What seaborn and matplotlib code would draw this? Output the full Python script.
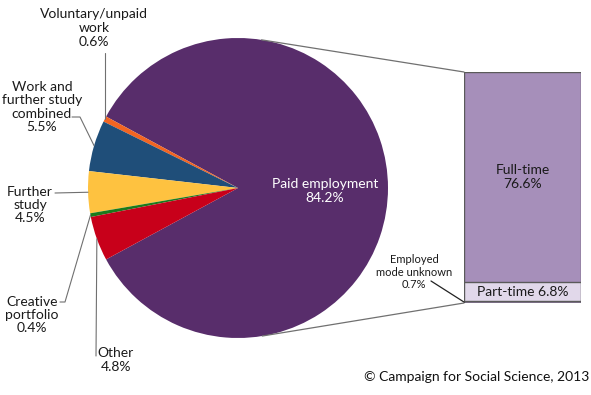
import numpy as np
import matplotlib
matplotlib.use("Agg")
import matplotlib.pyplot as plt
import seaborn as sns
from matplotlib.patches import ConnectionPatch

# pie data (counter-clockwise from the exploded "Paid employment" slice)
pie_labels = ["Paid employment", "Voluntary/unpaid\nwork", "Work and\nfurther study\ncombined",
              "Further\nstudy", "Creative\nportfolio", "Other"]
pie_values = [84.2, 0.6, 5.5, 4.5, 0.4, 4.8]
pie_colors = ["#582d6b", "#f26522", "#1f4e79", "#fec240", "#1b7a1b", "#c8001a"]

# breakdown of paid employment, bottom to top
bar_labels = ["Employed\nmode unknown", "Part-time", "Full-time"]
bar_values = [0.7, 6.8, 76.6]
bar_colors = ["#8e7a9f", "#e1d8ea", "#a68fba"]

W, H = 591, 395
sns.set_theme(style="white")
plt.rcParams['font.family'] = ['Lato', 'DejaVu Sans']

fig = plt.figure(figsize=(W / 100, H / 100), dpi=100)
ax = fig.add_axes([0, 0, 1, 1])

# main pie, axes data units = pixels (y up)
center = (238, H - 188)
radius = 150
start = -pie_values[0] / 100 * 360 / 2
wedges, _ = ax.pie(pie_values, colors=pie_colors, startangle=start, center=center,
                   radius=radius, wedgeprops=dict(linewidth=0))
ax.set_aspect('auto')
ax.set_xlim(0, W)
ax.set_ylim(0, H)
ax.set_axis_off()


def edge_point(w):
    ang = np.deg2rad((w.theta1 + w.theta2) / 2)
    return center[0] + radius * np.cos(ang), center[1] + radius * np.sin(ang)


def py(y):
    return H - y


txt = dict(fontsize=10, color="#1a1a1a", ha="center", va="center", linespacing=1.15)
line_kw = dict(color="#707070", lw=0.8)

ax.text(325, py(191), f"{pie_labels[0]}\n{pie_values[0]}%", color="white",
        fontsize=10, ha="center", va="center", linespacing=1.15)

# label position and leader elbows for the small slices
label_pos = {1: (94, 28), 2: (42, 107), 3: (30, 205), 4: (32, 315), 5: (116, 360)}
elbows = {1: None, 2: [(72, 117), (80, 117)], 3: [(55, 193)],
          4: [(60, 302), (65, 302)], 5: None}

for i, (lx, ly) in label_pos.items():
    ax.text(lx, py(ly), f"{pie_labels[i]}\n{pie_values[i]}%", **txt)
    ex, ey = edge_point(wedges[i])
    if i == 1:
        pts = [(ex, py(53))]
    elif i == 5:
        pts = [(96, py(356))]
    else:
        pts = [(x, py(y)) for x, y in elbows[i]]
    xs = [p[0] for p in pts] + [ex]
    ys = [p[1] for p in pts] + [ey]
    ax.plot(xs, ys, **line_kw)

# stacked bar
bax = fig.add_axes([464 / W, (H - 303) / H, 117 / W, 231 / H])
cum = np.cumsum(bar_values)
for k in range(len(bar_values) - 1, -1, -1):
    sns.barplot(x=["Paid employment"], y=[cum[k]], color=bar_colors[k], width=1,
                edgecolor="#5a5a5a", linewidth=1, saturation=1, ax=bax)
bax.set_xlim(-0.5, 0.5)
bax.set_ylim(0, cum[-1])
bax.set_axis_off()

bax.text(0, cum[1] + bar_values[2] / 2, f"{bar_labels[2]}\n{bar_values[2]}%",
         fontsize=10, color="#1a1a1a", ha="center", va="center", linespacing=1.15)
bax.text(0, cum[0] + bar_values[1] / 2, f"{bar_labels[1]} {bar_values[1]}%",
         fontsize=10, color="#1a1a1a", ha="center", va="center")

ax.text(414, py(272), f"{bar_labels[0]}\n{bar_values[0]}%", fontsize=8,
        color="#1a1a1a", ha="center", va="center", linespacing=1.2)
fig.add_artist(ConnectionPatch((431, py(281)), (0, bar_values[0] / 2 / cum[-1]),
                               "data", "axes fraction", axesA=ax, axesB=bax,
                               color="#222222", lw=0.9))

# connector lines tangent to the pie
to_main = ax.transData.inverted()
for yb, sgn in [(1, 1), (0, -1)]:
    cx, cy = to_main.transform(bax.transAxes.transform((0, yb)))
    dx, dy = cx - center[0], cy - center[1]
    d = np.hypot(dx, dy)
    ang = np.arctan2(dy, dx) + sgn * np.arccos(radius / d)
    tx, ty = center[0] + radius * np.cos(ang), center[1] + radius * np.sin(ang)
    ax.plot([tx, cx], [ty, cy], color="#707070", lw=0.9)

ax.text(589, py(377), "© Campaign for Social Science, 2013", fontsize=10,
        color="#111111", ha="right", va="center")

fig.savefig("out.png", dpi=100)
